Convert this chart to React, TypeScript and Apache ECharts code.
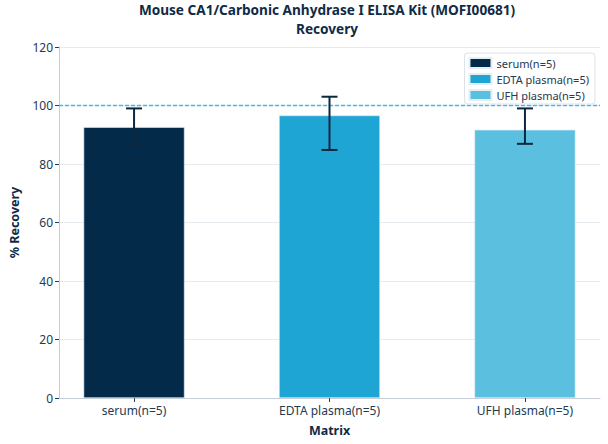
import { useEffect, useRef } from "react"
import * as echarts from "echarts"

const categories = ["serum(n=5)", "EDTA plasma(n=5)", "UFH plasma(n=5)"]
const recovery = [92.6, 96.6, 91.7]
const errLow = [86.5, 84.8, 86.9]
const errHigh = [99, 103, 99]
const barColors = ["#032a49", "#1fa5d3", "#5bbfe0"]
const yTicks = { min: 0, max: 120, interval: 20 }
const xRange = { min: -0.384, max: 2.384 }
const targetRecovery = 100
const titleLines = ["Mouse CA1/Carbonic Anhydrase I ELISA Kit (MOFI00681)", "Recovery"]

const FONT = "Noto Sans"
const TEXT = "#233a52"
const DARK = "#0f2b45"

export default function App() {
  const chartRef = useRef<HTMLDivElement>(null)

  useEffect(() => {
    if (!chartRef.current) return
    const chart = echarts.init(chartRef.current, undefined, { renderer: "svg" })

    const barSeries: any[] = categories.map((name, i) => ({
      name,
      type: "bar",
      data: [[i, recovery[i]]],
      barWidth: 101,
      barGap: "-100%",
      itemStyle: { color: barColors[i], borderColor: "#e4eef5", borderWidth: 0.6 },
    }))

    // dashed 100% reference line
    const refLine = {
      type: "line",
      z: 1,
      silent: true,
      showSymbol: false,
      color: "#3fbbe8",
      data: [
        [xRange.min, targetRecovery],
        [xRange.max, targetRecovery],
      ],
      lineStyle: { color: "#3fbbe8", type: [4, 2], width: 1.3, opacity: 1 },
    }

    // error bars drawn as I-beams over the bars
    const errorSeries = {
      type: "custom",
      z: 10,
      data: categories.map((_, i) => [i, errLow[i], errHigh[i]]),
      renderItem: (_params: any, api: any) => {
        const x = api.value(0)
        const lo = api.coord([x, api.value(1)])
        const hi = api.coord([x, api.value(2)])
        const half = 8
        const style = { stroke: "#0c2740", lineWidth: 2 }
        return {
          type: "group",
          children: [
            { type: "line", shape: { x1: hi[0], y1: hi[1], x2: lo[0], y2: lo[1] }, style },
            { type: "line", shape: { x1: hi[0] - half, y1: hi[1], x2: hi[0] + half, y2: hi[1] }, style },
            { type: "line", shape: { x1: lo[0] - half, y1: lo[1], x2: lo[0] + half, y2: lo[1] }, style },
          ],
        }
      },
    }

    chart.setOption({
      animation: false,
      textStyle: { fontFamily: FONT },
      title: titleLines.map((text, i) => ({
        text,
        left: 327,
        top: 2 + i * 19,
        textAlign: "center",
        padding: 0,
        textStyle: { fontSize: 13.6, fontWeight: "bold", color: DARK, fontFamily: FONT },
      })),
      legend: {
        orient: "vertical",
        right: 13,
        top: 53,
        icon: "rect",
        itemWidth: 22,
        itemHeight: 10,
        itemGap: 4,
        padding: [4, 6, 3, 4],
        backgroundColor: "#fff",
        borderColor: "#dbe2ea",
        borderWidth: 1,
        borderRadius: 3,
        data: categories,
        textStyle: { fontSize: 11, color: TEXT, fontFamily: FONT },
      },
      grid: { left: 54, right: 8, top: 47, bottom: 46 },
      xAxis: {
        type: "value",
        ...xRange,
        name: "Matrix",
        nameLocation: "middle",
        nameGap: 26,
        nameTextStyle: { fontSize: 12.5, fontWeight: "bold", color: DARK, fontFamily: FONT },
        axisLine: { show: true, onZero: false, lineStyle: { color: "#c5ced8", width: 1 } },
        axisTick: { show: true, customValues: [0, 1, 2], length: 4, lineStyle: { color: TEXT } },
        axisLabel: {
          customValues: [0, 1, 2],
          formatter: (v: number) => categories[Math.round(v)],
          fontSize: 12,
          color: TEXT,
          margin: 6,
        },
        splitLine: { show: false },
      },
      yAxis: {
        type: "value",
        ...yTicks,
        name: "% Recovery",
        nameLocation: "middle",
        nameRotate: 90,
        nameGap: 38,
        nameTextStyle: { fontSize: 12.5, fontWeight: "bold", color: DARK, fontFamily: FONT },
        axisLine: { show: true, onZero: false, lineStyle: { color: "#c5ced8", width: 1 } },
        axisTick: { show: true, length: 4, lineStyle: { color: TEXT } },
        axisLabel: { fontSize: 12, color: TEXT, margin: 6 },
        splitLine: { show: true, lineStyle: { color: "#e6ebf0", width: 1 } },
      },
      series: [refLine, ...barSeries, errorSeries],
    })

    return () => chart.dispose()
  }, [])

  return (
    <div
      ref={chartRef}
      style={{ position: "fixed", left: 0, top: 0, width: 608, height: 444, background: "#fff" }}
    />
  )
}
